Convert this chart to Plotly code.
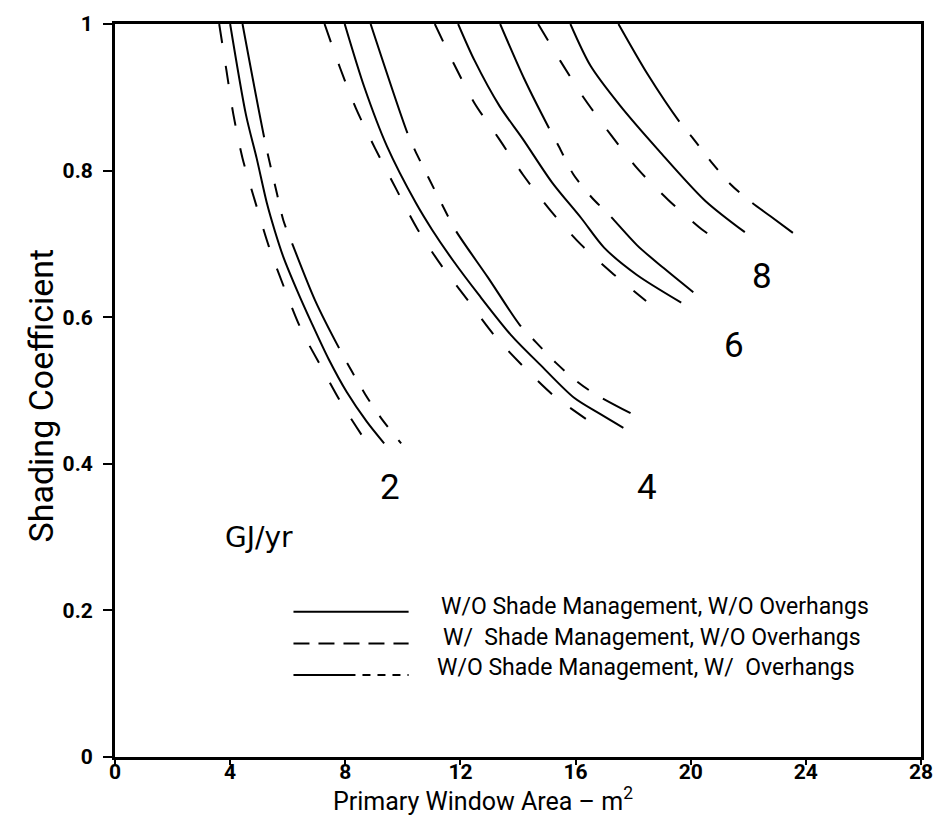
import plotly.graph_objects as go

# ---- data: x = primary window area (m2), y = shading coefficient ----
# level 2 GJ/yr
dash_2_x = [3.62, 3.87, 4.11, 4.43, 4.89, 5.35, 5.87, 6.47, 7.21, 7.92, 8.76]
dash_2_y = [1.0, 0.937, 0.877, 0.817, 0.755, 0.696, 0.641, 0.583, 0.529, 0.479, 0.428]
solid_2_x = [4.00, 4.55, 4.92, 5.28, 5.55, 5.85, 6.32, 6.82, 7.42, 8.05, 8.74, 9.35]
solid_2_y = [1.0, 0.876, 0.817, 0.755, 0.718, 0.682, 0.637, 0.593, 0.543, 0.498, 0.458, 0.428]
mixed_2_x = [4.43, 5.21, 5.63, 5.85, 6.18, 6.95, 7.85, 8.69, 9.27, 9.94]
mixed_2_y = [1.0, 0.840, 0.768, 0.732, 0.698, 0.623, 0.553, 0.495, 0.461, 0.428]
# level 4 GJ/yr
dash_4_x = [7.28, 7.81, 8.37, 9.04, 9.78, 10.48, 11.33, 12.24, 13.16, 14.18, 15.24, 16.44, 16.92]
dash_4_y = [1.0, 0.941, 0.885, 0.830, 0.774, 0.722, 0.671, 0.624, 0.576, 0.533, 0.493, 0.459, 0.445]
solid_4_x = [7.98, 8.66, 9.45, 10.45, 11.02, 11.75, 12.65, 13.75, 14.75, 15.95, 16.85, 17.66]
solid_4_y = [1.0, 0.914, 0.833, 0.756, 0.719, 0.677, 0.630, 0.576, 0.536, 0.490, 0.468, 0.449]
mixed_4_x = [8.88, 10.17, 10.43, 10.87, 11.37, 11.84, 12.96, 14.07, 14.62, 15.31, 16.06, 16.64, 17.91]
mixed_4_y = [1.0, 0.850, 0.827, 0.792, 0.753, 0.718, 0.654, 0.589, 0.566, 0.538, 0.512, 0.496, 0.469]
# level 6 GJ/yr
dash_6_x = [11.11, 11.78, 12.49, 13.33, 14.18, 15.16, 16.19, 17.25, 18.45]
dash_6_y = [1.0, 0.945, 0.892, 0.844, 0.794, 0.744, 0.699, 0.661, 0.622]
solid_6_x = [11.92, 12.48, 13.36, 14.17, 15.18, 16.20, 16.99, 18.12, 19.67]
solid_6_y = [1.0, 0.951, 0.888, 0.843, 0.784, 0.735, 0.695, 0.658, 0.620]
mixed_6_x = [13.38, 14.22, 15.09, 15.42, 15.92, 16.57, 17.18, 18.14, 19.06, 20.09]
mixed_6_y = [1.0, 0.925, 0.857, 0.833, 0.795, 0.763, 0.739, 0.698, 0.667, 0.634]
# level 8 GJ/yr
dash_8_x = [14.70, 15.48, 16.29, 17.24, 18.19, 19.22, 20.38, 20.59]
dash_8_y = [1.0, 0.949, 0.899, 0.848, 0.801, 0.760, 0.720, 0.714]
solid_8_x = [15.82, 16.52, 17.54, 18.90, 20.50, 21.88]
solid_8_y = [1.0, 0.943, 0.889, 0.827, 0.759, 0.716]
mixed_8_x = [17.49, 18.51, 19.62, 20.10, 20.71, 21.39, 22.07, 22.76, 23.55]
mixed_8_y = [1.0, 0.931, 0.866, 0.843, 0.812, 0.781, 0.758, 0.738, 0.715]

# contour labels
level_labels = ["2", "4", "6", "8"]
level_label_x = [9.57, 18.49, 21.52, 22.47]
level_label_y = [0.367, 0.367, 0.561, 0.656]

# legend entries
legend_texts = [
    "W/O Shade Management, W/O Overhangs",
    "W/  Shade Management, W/O Overhangs",
    "W/O Shade Management, W/  Overhangs",
]
legend_text_x = [11.26, 11.31, 11.11]
legend_text_y = [0.205, 0.163, 0.122]
legend_line_x = [6.2, 10.2]
legend_line_y = [0.198, 0.155, 0.112]

x_ticks = [0, 4, 8, 12, 16, 20, 24, 28]
y_ticks = [0, 0.2, 0.4, 0.6, 0.8, 1]
y_tick_text = ["0", "0.2", "0.4", "0.6", "0.8", "1"]

# ---- styles ----
DASH = "19px,23px"
MIXED = "115px,17px,14px,17px,14px,17px,14px,17px"
LEG_DASH = "16px,9px"
LEG_MIXED = "62px,7px,8px,7px,8px,7px,8px,7px"
FONT = "Roboto, sans-serif"

fig = go.Figure()

series = [
    (dash_2_x, dash_2_y, DASH), (solid_2_x, solid_2_y, "solid"), (mixed_2_x, mixed_2_y, MIXED),
    (dash_4_x, dash_4_y, DASH), (solid_4_x, solid_4_y, "solid"), (mixed_4_x, mixed_4_y, MIXED),
    (dash_6_x, dash_6_y, DASH), (solid_6_x, solid_6_y, "solid"), (mixed_6_x, mixed_6_y, MIXED),
    (dash_8_x, dash_8_y, DASH), (solid_8_x, solid_8_y, "solid"), (mixed_8_x, mixed_8_y, MIXED),
]
for xs, ys, dash in series:
    fig.add_trace(go.Scatter(
        x=xs, y=ys, mode="lines", showlegend=False, hoverinfo="skip",
        line=dict(color="black", width=2, dash=dash, shape="spline", smoothing=0.8),
    ))

# legend keys
for yv, dash in zip(legend_line_y, ["solid", LEG_DASH, LEG_MIXED]):
    fig.add_trace(go.Scatter(
        x=legend_line_x, y=[yv, yv], mode="lines", showlegend=False, hoverinfo="skip",
        line=dict(color="black", width=2, dash=dash),
    ))

annotations = []
for t, xv, yv in zip(legend_texts, legend_text_x, legend_text_y):
    annotations.append(dict(x=xv, y=yv, xref="x", yref="y", text=t, showarrow=False,
                            xanchor="left", yanchor="middle",
                            font=dict(family=FONT, size=23, color="black")))
for t, xv, yv in zip(level_labels, level_label_x, level_label_y):
    annotations.append(dict(x=xv, y=yv, xref="x", yref="y", text=t, showarrow=False,
                            xanchor="center", yanchor="middle",
                            font=dict(family=FONT, size=35, color="black")))
annotations.append(dict(x=5.0, y=0.30, xref="x", yref="y", text="GJ/yr", showarrow=False,
                        xanchor="center", yanchor="middle",
                        font=dict(family="DejaVu Sans, sans-serif", size=28, color="black")))
annotations.append(dict(x=0.457, y=-0.058, xref="paper", yref="paper",
                        text="Primary Window Area – m<sup>2</sup>", showarrow=False,
                        xanchor="center", yanchor="middle",
                        font=dict(family=FONT, size=25, color="black")))
annotations.append(dict(x=-0.092, y=0.493, xref="paper", yref="paper",
                        text="Shading Coefficient", showarrow=False, textangle=-90,
                        xanchor="center", yanchor="middle",
                        font=dict(family=FONT, size=34, color="black")))

fig.update_layout(
    width=945, height=817,
    margin=dict(l=115, r=24, t=16, b=60),
    paper_bgcolor="white", plot_bgcolor="white",
    annotations=annotations,
    showlegend=False,
    xaxis=dict(range=[0, 28], tickvals=x_ticks, ticktext=[str(v) for v in x_ticks],
               showgrid=False, zeroline=False, showline=True, linecolor="black",
               linewidth=3, mirror=True, ticks="outside", ticklen=5, tickwidth=1.5,
               tickcolor="black", ticklabelstandoff=-11,
               tickfont=dict(family=FONT, size=21, color="black", weight="bold")),
    yaxis=dict(range=[0, 1], tickvals=y_ticks, ticktext=y_tick_text,
               showgrid=False, zeroline=False, showline=True, linecolor="black",
               linewidth=3, mirror=True, ticks="outside", ticklen=9, tickwidth=1.5,
               tickcolor="black", ticklabelstandoff=6,
               tickfont=dict(family=FONT, size=21, color="black", weight="bold")),
)

fig.write_html("out.html")
